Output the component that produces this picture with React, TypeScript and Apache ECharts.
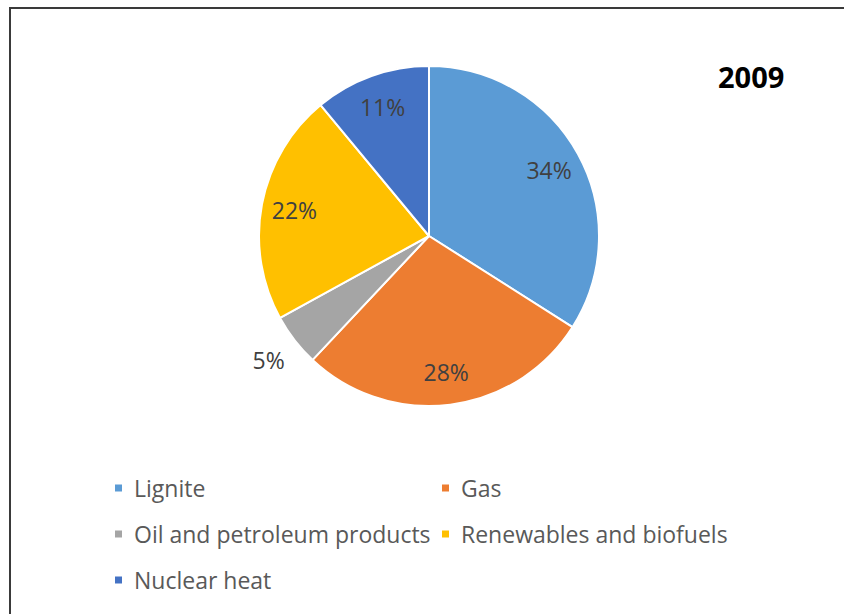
import React, { useEffect, useRef } from "react";
import * as echarts from "echarts";

const categories = ["Lignite", "Gas", "Oil and petroleum products", "Renewables and biofuels", "Nuclear heat"];
const shares = [34, 28, 5, 22, 11];
const colors = ["#5B9BD5", "#ED7D31", "#A5A5A5", "#FFC000", "#4472C4"];
const title = "2009";
const leftLegend = ["Lignite", "Oil and petroleum products", "Nuclear heat"];
const rightLegend = ["Gas", "Renewables and biofuels"];
const outsideLabelIdx = [2];

export default function App() {
  const ref = useRef<HTMLDivElement>(null);
  useEffect(() => {
    const chart = echarts.init(ref.current!, null, { renderer: "svg" });
    const data = categories.map((name, i) => ({ name, value: shares[i], itemStyle: { color: colors[i] } }));
    const font = "Open Sans";
    const legendBase = {
      orient: "vertical" as const,
      top: 470,
      icon: "rect",
      itemWidth: 9,
      itemHeight: 9,
      itemGap: 20,
      textStyle: { fontFamily: font, fontSize: 23, color: "#595959", lineHeight: 26, padding: [0, 0, 0, 6] },
      selectedMode: false,
    };
    const labelStyle = {
      position: "inside",
      formatter: "{c}%",
      fontFamily: font,
      fontSize: 23,
      color: "#404040",
    };
    chart.setOption({
      animation: false,
      backgroundColor: "#fff",
      color: colors,
      title: {
        text: title,
        left: 713,
        top: 56,
        textStyle: { fontFamily: font, fontSize: 29, fontWeight: "bold", color: "#000", lineHeight: 30 },
      },
      graphic: [
        {
          type: "rect",
          shape: { x: 10, y: 8, width: 1000, height: 1000 },
          style: { fill: "none", stroke: "#3a3a3a", lineWidth: 2 },
          silent: true,
        },
      ],
      legend: [
        { ...legendBase, left: 108, data: leftLegend },
        { ...legendBase, left: 435, data: rightLegend },
      ],
      series: [
        {
          type: "pie",
          center: [429, 236],
          radius: [0, 170],
          startAngle: 90,
          clockwise: true,
          data,
          itemStyle: { borderColor: "#fff", borderWidth: 2 },
          label: { show: false },
          labelLine: { show: false },
          emphasis: { disabled: true },
        },
        {
          type: "pie",
          center: [429, 236],
          radius: [0, 268],
          startAngle: 90,
          clockwise: true,
          silent: true,
          data: data.map((d, i) => ({
            ...d,
            itemStyle: { color: "transparent" },
            label: { show: !outsideLabelIdx.includes(i) },
          })),
          label: labelStyle,
          labelLine: { show: false },
          emphasis: { disabled: true },
        },
        {
          type: "pie",
          center: [429, 236],
          radius: [188, 212],
          startAngle: 90,
          clockwise: true,
          silent: true,
          data: data.map((d, i) => ({
            ...d,
            itemStyle: { color: "transparent" },
            label: { show: outsideLabelIdx.includes(i) },
          })),
          label: labelStyle,
          labelLine: { show: false },
          emphasis: { disabled: true },
        },
      ],
    });
    return () => chart.dispose();
  }, []);
  return <div ref={ref} style={{ position: "absolute", left: 0, top: 0, width: 844, height: 614 }} />;
}
